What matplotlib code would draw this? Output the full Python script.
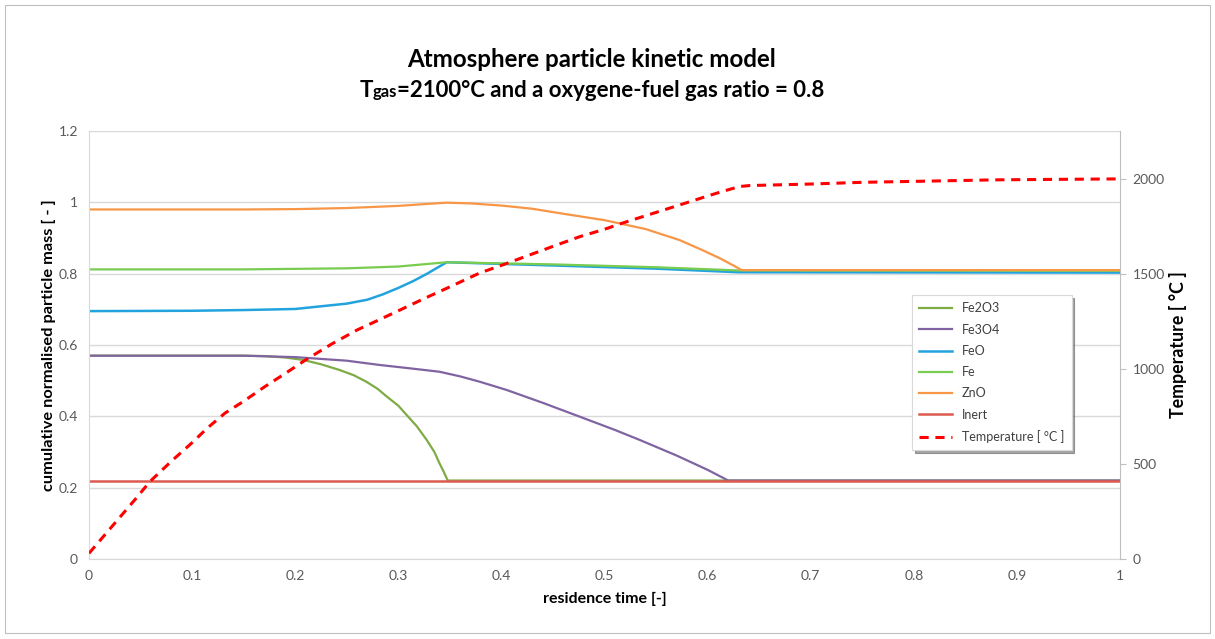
import numpy as np
import matplotlib
matplotlib.use("Agg")
import matplotlib.pyplot as plt
from matplotlib.patches import Rectangle

# residence time samples and the species curves
t_fe2o3 = [0, 0.15, 0.17, 0.19, 0.208, 0.225, 0.243, 0.257, 0.269, 0.28, 0.289, 0.3, 0.308,
           0.318, 0.3275, 0.335, 0.34, 0.344, 0.347, 0.348, 1.0]
fe2o3 = [0.57, 0.57, 0.569, 0.565, 0.558, 0.546, 0.53, 0.515, 0.497, 0.477, 0.455, 0.43, 0.404,
         0.372, 0.334, 0.3, 0.268, 0.245, 0.226, 0.22, 0.22]

t_fe3o4 = [0, 0.15, 0.2, 0.22, 0.25, 0.282, 0.31, 0.34, 0.36, 0.379, 0.405, 0.44, 0.476, 0.51,
           0.534, 0.57, 0.6, 0.62, 1.0]
fe3o4 = [0.57, 0.57, 0.566, 0.562, 0.556, 0.544, 0.535, 0.525, 0.512, 0.497, 0.474, 0.438,
         0.399, 0.362, 0.334, 0.29, 0.25, 0.22, 0.22]

t_feo = [0, 0.1, 0.15, 0.2, 0.25, 0.27, 0.285, 0.3, 0.315, 0.328, 0.338, 0.347, 0.45, 0.55, 0.63, 1.0]
feo = [0.695, 0.696, 0.698, 0.701, 0.716, 0.727, 0.742, 0.76, 0.78, 0.80, 0.817, 0.832,
       0.823, 0.814, 0.804, 0.803]

t_fe = [0, 0.15, 0.25, 0.3, 0.347, 0.45, 0.55, 0.63, 1.0]
fe = [0.812, 0.812, 0.815, 0.82, 0.832, 0.826, 0.818, 0.809, 0.808]

t_zno = [0, 0.15, 0.2, 0.25, 0.3, 0.325, 0.347, 0.37, 0.4, 0.43, 0.46, 0.5, 0.54, 0.573,
         0.595, 0.612, 0.625, 0.633, 1.0]
zno = [0.98, 0.98, 0.981, 0.984, 0.99, 0.995, 0.999, 0.997, 0.991, 0.982, 0.968, 0.95, 0.925,
       0.894, 0.866, 0.843, 0.823, 0.81, 0.81]

t_inert = [0, 1.0]
inert = [0.22, 0.22]

t_temp = [0, 0.015, 0.03, 0.045, 0.059, 0.08, 0.1, 0.115, 0.132, 0.15, 0.17, 0.19, 0.21, 0.235,
          0.26, 0.28, 0.3, 0.325, 0.35, 0.379, 0.4, 0.43, 0.45, 0.476, 0.5, 0.52, 0.545, 0.573,
          0.6, 0.615, 0.631, 0.641, 0.7, 0.75, 0.8, 0.88, 0.95, 1.0]
temp = [30, 125, 220, 315, 407, 515, 612, 690, 768, 830, 905, 975, 1047, 1130, 1205, 1255,
        1306, 1370, 1432, 1505, 1545, 1605, 1645, 1696, 1735, 1772, 1815, 1863, 1910, 1935,
        1960, 1965, 1973, 1982, 1987, 1995, 1998, 2000]

x_ticks = [0, 0.1, 0.2, 0.3, 0.4, 0.5, 0.6, 0.7, 0.8, 0.9, 1]
y_ticks = [0, 0.2, 0.4, 0.6, 0.8, 1, 1.2]
t_ticks = [0, 500, 1000, 1500, 2000]

plt.rcParams['font.family'] = ['Lato', 'DejaVu Sans']
tick_col = '#595959'
grid_col = '#d9d9d9'

fig = plt.figure(figsize=(12.15, 6.39), dpi=100)
fig.patches.append(Rectangle((0.004, 0.01), 0.992, 0.982, transform=fig.transFigure,
                             fill=False, edgecolor='#bfbfbf', linewidth=0.8))
ax = fig.add_axes([89 / 1215, 1 - 559 / 639, 1031 / 1215, 428 / 639])
ax2 = ax.twinx()

ax.plot(t_fe2o3, fe2o3, color='#7fab45', lw=1.6, label='Fe2O3')
ax.plot(t_fe3o4, fe3o4, color='#8064a2', lw=1.6, label='Fe3O4')
ax.plot(t_feo, feo, color='#22a3de', lw=1.8, label='FeO')
ax.plot(t_fe, fe, color='#78cc50', lw=1.6, label='Fe')
ax.plot(t_zno, zno, color='#f79646', lw=1.6, label='ZnO')
ax.plot(t_inert, inert, color='#dc5a50', lw=1.8, label='Inert')
ax2.plot(t_temp, temp, color='#ff0000', lw=2.2, ls=(0, (3, 2.2)), label='Temperature [ °C ]')

ax.set_xlim(0, 1)
ax.set_ylim(0, 1.2)
ax2.set_ylim(0, 2252)
ax.set_xticks(x_ticks)
ax.set_xticklabels([f'{v:g}' for v in x_ticks])
ax.set_yticks(y_ticks)
ax.set_yticklabels([f'{v:g}' for v in y_ticks])
ax2.set_yticks(t_ticks)

ax.grid(axis='y', color=grid_col, lw=1)
ax.set_axisbelow(True)
for a in (ax, ax2):
    for s in a.spines.values():
        s.set_visible(False)
ax.spines['left'].set_visible(True)
ax.spines['left'].set_color(grid_col)
ax.spines['bottom'].set_visible(True)
ax.spines['bottom'].set_color(grid_col)
ax2.spines['right'].set_visible(True)
ax2.spines['right'].set_color('#bfbfbf')

ax.tick_params(axis='both', length=0, labelsize=10, labelcolor=tick_col, pad=8)
ax2.tick_params(axis='y', length=4, color='#bfbfbf', labelsize=10, labelcolor=tick_col, pad=5)

ax.set_xlabel('residence time [-]', fontsize=11.5, fontweight='bold', labelpad=7)
ax.set_ylabel('cumulative normalised particle mass [ - ]', fontsize=11.8, fontweight='bold', labelpad=2)
ax2.set_ylabel('Temperature [ °C ]', fontsize=12.8, fontweight='bold', labelpad=3)

h1, l1 = ax.get_legend_handles_labels()
h2, l2 = ax2.get_legend_handles_labels()
leg = ax2.legend(h1 + h2, l1 + l2, loc='upper left', bbox_to_anchor=(0.798, 0.617),
                 fontsize=9, frameon=True, fancybox=False, shadow=True,
                 labelspacing=0.74, handlelength=2.6, borderpad=0.6, borderaxespad=0)
leg.get_frame().set_edgecolor('#d9d9d9')
leg.get_frame().set_linewidth(0.8)
for txt in leg.get_texts():
    txt.set_color('#404040')

# title, with a smaller "gas" after the T
xc = 592 / 1215
fig.text(xc, 1 - 67 / 639, 'Atmosphere particle kinetic model', ha='center', va='baseline',
         fontsize=17.4, fontweight='bold')
fig.canvas.draw()
r = fig.canvas.get_renderer()
y2 = 1 - 97 / 639
pieces = [('T', 16), ('gas', 12), ('=2100°C and a oxygene-fuel gas ratio = 0.8', 16)]
objs = [fig.text(0, y2, s, ha='left', va='baseline', fontsize=fs, fontweight='bold') for s, fs in pieces]
widths = [o.get_window_extent(r).width / fig.bbox.width for o in objs]
x0 = xc - sum(widths) / 2
for o, w in zip(objs, widths):
    o.set_x(x0)
    x0 += w

fig.savefig('out.png', dpi=100)
